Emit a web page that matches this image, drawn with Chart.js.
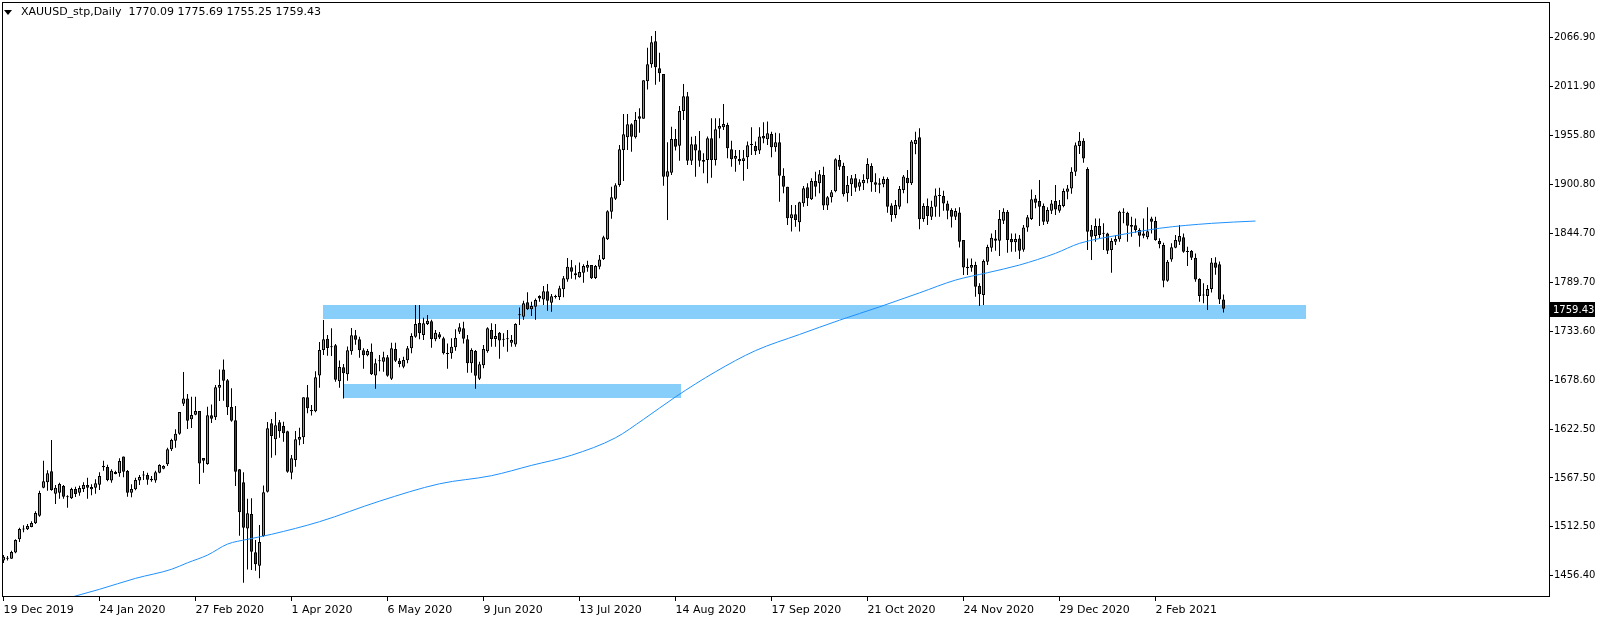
<!DOCTYPE html>
<html>
<head>
<meta charset="utf-8">
<title>XAUUSD_stp,Daily</title>
<script src="https://cdn.jsdelivr.net/npm/chart.js@4.4.1/dist/chart.umd.min.js"></script>
<style>
  html, body { margin: 0; padding: 0; background: #fff; }
  #wrap { position: relative; width: 1604px; height: 620px; }
  #c { display: block; }
  #arrow { position: absolute; left: 4px; top: 10px; width: 0; height: 0;
           border-left: 4px solid transparent; border-right: 4px solid transparent; border-top: 5px solid #000; }
  #caption { position: absolute; left: 21px; top: 5px; font: 11px "DejaVu Sans", sans-serif;
             line-height: 13px; color: #000; white-space: pre; }
</style>
</head>
<body>
<div id="wrap">
  <canvas id="c" width="1604" height="620"></canvas>
  <div id="arrow"></div>
  <div id="caption"></div>
</div>
<script>
// =========================
// DATA
// =========================
const symbol = "XAUUSD_stp";
const period = "Daily";

const opens = [
1474,1476,1476,1483,1498,1509,1509.3,1512,1516,1524.7,
1556.5,1562.6,1575,1549.7,1550.8,1558.4,1545.5,1544.4,1555,1550.8,
1555,1559.5,1554.6,1556.5,1559.9,1579.6,1580,1564.5,1574.2,1572.8,
1592,1575.4,1550.8,1554.6,1564.5,1570.3,1570.9,1566.7,1564.5,1573.5,
1578,1583,1600,1609.8,1617.7,1651.8,1657.8,1634,1639.3,1643.5,
1590.2,1583.4,1638.6,1636.3,1669.9,1690.7,1678.3,1648,1632.9,1577.3,
1562.6,1510.3,1526.6,1483.1,1468,1501.6,1552,1629.5,1611.3,1630.6,
1626.4,1620.4,1573.5,1587.9,1611,1613.6,1659,1644.6,1643.1,1683.9,
1712.7,1725.5,1715.7,1718,1677.1,1693,1685.1,1711.2,1729.3,1724.8,
1712.3,1706.6,1710.8,1683.9,1699.8,1699.4,1704.4,1680.2,1713.8,1700.6,
1693.8,1701,1714.6,1727.8,1743.3,1729.7,1742.2,1745.2,1724.8,1730.5,
1725.9,1708.5,1708.9,1715.7,1733.5,1737.3,1724.8,1697.6,1711.5,1680.2,
1695.3,1711.2,1735.4,1725.2,1732.3,1724.4,1724.8,1721,1719,1752,
1750.5,1766.8,1758.8,1761.8,1774,1770,1779.3,1766.4,1772.8,1772.8,
1781.5,1792.8,1806.5,1799.7,1795.1,1800.4,1806.1,1809.1,1794.4,1807.2,
1815.9,1838.2,1869.6,1884.4,1899.9,1939.6,1954,1968.7,1954,1977.8,
1975.1,2017.5,2036.8,2062.9,2032.3,2025.8,1909.3,1913.9,1952.1,1944.5,
1983.9,2000.5,1927.5,1946,1939.2,1928.3,1928.3,1952.9,1928.3,1963.8,
1965.3,1968,1940.4,1929.8,1929.4,1927.1,1931.3,1945.3,1944.2,1938.9,
1955.5,1951.7,1957.8,1942.7,1948.3,1910.5,1898,1862.1,1866.6,1857.6,
1879.1,1897.3,1883.6,1904.5,1901.8,1911.3,1876.5,1885.9,1892.7,1928.3,
1921.5,1890.5,1900.7,1907.5,1898,1901.8,1906.3,1921.5,1903,1901.8,
1900.7,1906.7,1876.5,1865.9,1875.3,1894.2,1908.2,1901.8,1946.4,1954,
1861.3,1876,1864,1875.3,1887.4,1887.4,1879,1871.5,1863.9,1868.8,
1837.4,1807.2,1806,1809.1,1785.6,1775,1812.9,1828.7,1839.3,1836.7,
1859.4,1869.6,1838.6,1834.8,1839.3,1826.5,1851.8,1861.3,1884.7,1881.7,
1876,1858.2,1870.7,1881.7,1870.7,1876,1892.3,1896,1915,1944,
1950,1918,1848.8,1842,1853.4,1844.6,1845,1826.1,1835.6,1838.2,
1868.5,1868.5,1854.5,1854.1,1848.8,1845,1840.5,1862,1859,1836.3,
1831.8,1791.3,1815.5,1828.8,1835.6,1840.5,1823.9,1825,1817.4,1793.2,
1774.6,1773.9,1782,1812,1810,1770.09
];

const highs = [
1480,1479,1485,1498,1511,1514,1515.3,1518.3,1529.7,1553,
1587,1576.2,1610.6,1559.5,1562.2,1559.5,1547.8,1556.5,1557.6,1558.8,
1562.6,1567.8,1560.3,1566,1573.9,1587,1582.6,1577.3,1575.8,1589.8,
1592,1576.5,1560.3,1567.8,1570.9,1575.4,1573.5,1569.8,1575.8,1583,
1581.9,1601.9,1612.1,1622.7,1642.3,1687.7,1662.7,1659.7,1659.7,1643.5,
1590.2,1648.4,1651,1673,1690.7,1702,1679.8,1669.2,1649.1,1577.7,
1573.9,1544,1544.4,1497.1,1514.1,1559.1,1631,1634.4,1642.3,1633.2,
1631.4,1621.1,1593.5,1620.8,1624.5,1659,1673,1650.3,1688.5,1721.7,
1746.7,1729.7,1737.3,1719.5,1700.9,1696.8,1716.8,1737.6,1735.4,1727.8,
1714.6,1713.8,1720.2,1702.8,1707,1710.8,1707,1721,1721,1703.2,
1705.1,1717.2,1731.6,1763.7,1763.7,1749.4,1752.4,1747.1,1735.4,1733,
1727.8,1720.2,1725.9,1736.1,1743,1744.8,1729.7,1714.6,1712.7,1699.4,
1718.4,1738.4,1742.9,1742.2,1733.1,1731.6,1735.4,1729.7,1743,1761,
1768.7,1778.1,1767.5,1771,1774.7,1785.3,1787.6,1776.2,1775.5,1785.7,
1796.6,1817.1,1814.8,1808.7,1812.1,1809.9,1814,1809.1,1809.1,1820.5,
1842.4,1871.1,1898,1901.8,1945.3,1980.4,1980.4,1969.9,1982.7,1986.9,
2018.6,2055.7,2069,2074.6,2050,2025.8,1948.3,1966.1,1963.4,1989.5,
2014.5,2005.4,1954.7,1955.5,1961.2,1935.8,1954.8,1975.5,1975.5,1975.5,
1991.8,1970.6,1950.2,1939.6,1939.6,1939.6,1949.1,1965.3,1949.1,1965.3,
1971,1971.8,1960.4,1959.3,1958.5,1918.8,1898,1877.2,1877.2,1881,
1898.8,1901.8,1907.5,1915,1916.9,1920.7,1887.4,1894.2,1930.2,1934,
1925.2,1910.1,1911.3,1912.4,1906.3,1912,1930.2,1924.5,1913.1,1907.5,
1909.4,1908.6,1879.1,1882.9,1898.8,1911.3,1916.9,1951,1960.4,1964.2,
1879.1,1884.7,1882.1,1896,1896.9,1893.4,1882.1,1873.4,1873.4,1874.5,
1837.4,1816.6,1816.6,1812.8,1788.3,1815.5,1832.2,1845,1848.8,1871.5,
1873.4,1871.5,1845,1845,1843.1,1854.5,1865.8,1894.9,1888.5,1905.5,
1879,1874.5,1882.8,1899.9,1882.8,1896,1899.9,1920,1948,1960,
1953,1920,1854.5,1862,1862,1856.4,1845.8,1839.4,1843.1,1870.8,
1873.4,1869.6,1864,1862,1850.7,1862,1874.5,1864,1864,1839.4,
1834.4,1814.8,1833.7,1843.1,1854.5,1845,1829.9,1826.1,1822.3,1794,
1788.3,1786.4,1817,1818,1813,1775.69
];

const lows = [
1471,1474,1476,1482,1495,1506,1508.5,1511.5,1515.3,1523.6,
1555.8,1553,1553,1538,1544,1544,1533.8,1543.7,1545.9,1547.4,
1551.6,1544,1548,1549.7,1554,1575.8,1563.7,1562.2,1571.6,1569,
1568.2,1546.3,1545.5,1553.5,1559.5,1565.2,1559.9,1563.3,1562.2,1572.8,
1577.3,1581.1,1598.1,1601.9,1616.6,1649.1,1623,1624.2,1638.6,1560.7,
1573.5,1582.6,1629.8,1633.2,1654.8,1655.2,1638.9,1631.4,1558.4,1502,
1448.7,1463.8,1463,1462.3,1453.6,1500.9,1551,1590.5,1593.2,1613.2,
1608.7,1573.5,1566,1580.3,1604.5,1606,1640.8,1638.5,1642,1669.9,
1707,1706.2,1705.9,1676.7,1669.9,1657.8,1677.9,1707.4,1718.7,1704,
1691.5,1705.5,1684.3,1668.8,1688.5,1688.1,1682.4,1678.6,1699.1,1693,
1691.9,1697.6,1708.9,1726.7,1724.8,1724,1741,1715.3,1722.5,1725.2,
1707.7,1691.5,1702.8,1711.9,1730.8,1720.2,1687,1687,1668.8,1678.6,
1691.9,1709.7,1716.5,1716.5,1702.8,1716.5,1710.8,1716.5,1716.5,1741,
1747,1758,1751.3,1747,1767.5,1763.7,1757.3,1756.2,1771,1769.4,
1772.4,1790.2,1793.6,1792.8,1794.8,1789.1,1801.6,1793.2,1793.2,1804.2,
1814.8,1837.5,1861.7,1882.9,1898,1904.4,1939.6,1937.7,1952.5,1959.3,
1975,2008.1,2033,2013.7,2017.1,1899.1,1860.2,1911.2,1938.9,1927.5,
1973.6,1922.6,1922.6,1909.3,1920.7,1913.1,1901.8,1908.2,1921.9,1952.9,
1962.3,1930.2,1920.7,1915,1923,1904.8,1918.1,1934,1934,1935.1,
1947.2,1945.3,1931.3,1937.7,1881,1890.5,1854.5,1847,1852.6,1847,
1875.3,1876.1,1882.9,1886.7,1890.5,1871.6,1871.6,1879.9,1891.6,1917,
1886.7,1881,1887.4,1892.3,1893.5,1894.2,1901.8,1892.3,1892,1890.5,
1897.3,1868.5,1858.3,1862.1,1872.3,1890.5,1879.1,1899.9,1934.7,1849.6,
1858.3,1854.5,1860.2,1864,1864,1870.7,1860.9,1851.8,1860.1,1829.1,
1797.7,1797.7,1801.5,1773.2,1762.6,1763.7,1809.1,1824.2,1825.3,1819.3,
1855.6,1823.1,1824.2,1824.2,1815.9,1824.2,1846.9,1860.1,1873.4,1853.3,
1854.5,1855.6,1867,1865.8,1868.5,1874.5,1883.6,1890,1910,1935,
1925,1826.1,1814.8,1835.6,1839.4,1826.1,1821.6,1800.4,1831.8,1835.6,
1856.4,1835.6,1841.2,1845.8,1829.9,1839.4,1838.2,1845,1836.7,1828,
1783.8,1790.2,1812.9,1828,1831.8,1823.1,1808,1814.8,1790.2,1767.5,
1765.6,1758,1778,1798,1765,1755.25
];

const closes = [
1478,1477,1483.6,1497,1509.6,1510,1513,1516.4,1527.8,1550.5,
1563.7,1572.8,1553.8,1556.5,1560.7,1546.3,1545.9,1555,1549.3,1556.1,
1559.5,1556.5,1557.3,1561.4,1569.8,1581.1,1565.2,1575.8,1572,1586.7,
1574.6,1550.8,1555,1565.2,1568.6,1570.6,1565.6,1564.8,1573.9,1582.2,
1581,1600,1610.6,1617.7,1642.3,1657.8,1632.5,1638.9,1643.5,1584,
1587.1,1638.6,1634.8,1670.3,1673,1677.9,1647.6,1632.5,1574.6,1528.5,
1511.1,1527.4,1483.8,1469.5,1494.8,1551.2,1623.8,1615.1,1627.2,1620.4,
1618.1,1574.6,1589.8,1611.3,1614,1659,1646.5,1643.1,1681.7,1712.7,
1724.8,1715,1715.7,1679,1693.4,1686.2,1712.3,1729.3,1724.4,1712.3,
1706.6,1711.5,1685.1,1697.6,1700,1704.4,1683.6,1714.6,1700.6,1696.8,
1701.3,1714.6,1728.6,1742.2,1731.6,1743,1746,1725.2,1732.3,1727,
1708.9,1708.1,1716.5,1726.7,1738.4,1725.5,1697.6,1712.7,1683.6,1696.4,
1713.8,1737.3,1725.2,1728.6,1723.6,1724.8,1724.9,1724,1742.2,1753,
1765.6,1758.8,1762.6,1769.4,1771,1779.3,1768.7,1773.6,1773,1782.7,
1794,1807.2,1801.6,1797.4,1801.2,1808,1809.1,1794,1808,1815.5,
1840.5,1870,1885.9,1899.5,1940.4,1957.4,1968.7,1954.7,1973.6,1975.1,
2018.6,2036.8,2061.8,2033.4,2026.6,1909.3,1915.4,1952.1,1943.4,1983.9,
2000.5,1927.5,1946,1938.9,1927.5,1926.4,1952.9,1928.3,1963.1,1966.9,
1969.1,1941.5,1929,1932.8,1926.8,1930.2,1944.9,1945.3,1938.1,1954.8,
1952.5,1958.5,1942.7,1948.3,1910.5,1898,1862.1,1866.6,1860.2,1880.2,
1896.1,1884.8,1904.5,1898,1912,1876.5,1885.9,1891.6,1929,1920.7,
1889.3,1899.9,1907.5,1896.9,1902.9,1905.6,1923.7,1903,1900.3,1900.3,
1906.7,1875.3,1865.9,1877.2,1895.4,1909.4,1901.8,1949.1,1951,1861,
1876,1864.7,1875.3,1888.1,1887.8,1879,1870.7,1863.9,1870.4,1835.6,
1806.4,1805.3,1809.1,1784.5,1775.8,1813.6,1829.5,1840.1,1836.7,1861.3,
1869.6,1837.4,1834.8,1838.6,1825.3,1851.8,1863.2,1883.6,1879.8,1875.3,
1858.2,1871.5,1879,1872.2,1877.2,1893,1896,1915,1945,1950,
1930,1846.9,1841.3,1853.4,1843.1,1844.6,1825.4,1836.3,1838.6,1869.6,
1868.5,1853.7,1852.6,1848.8,1842.4,1842.4,1847.3,1858.3,1837.5,1832.6,
1791.3,1812.9,1829.2,1837.5,1842,1824.2,1823.9,1817.4,1792.8,1773.9,
1774.6,1781.9,1812,1806,1770,1759.43
];

// moving average at some bars
const maBars = [12, 18, 24, 33, 42, 46, 51, 56, 61, 67, 79, 94, 109, 122, 132, 142, 153, 160, 168,
                178, 188, 199, 209, 219, 229, 238, 246, 254, 263, 269, 279, 289, 302, 313];
const maValues = [1426, 1433.6, 1441.2, 1453.6, 1463.9, 1471.3, 1480, 1492.5, 1497.9, 1503.6, 1517.9,
                  1541.2, 1560.9, 1570.1, 1581.8, 1593.3, 1613.1, 1634, 1659.5, 1688, 1712, 1730.3,
                  1746.5, 1761.6, 1777.5, 1792, 1800.4, 1809.1, 1822.4, 1833.7, 1843.2, 1850.8, 1856.4, 1859];

// support zones (bar from, bar to, low price, high price)
const zoneFrom = [79.9, 84.9];
const zoneTo = [325.6, 169.4];
const zoneLow = [1747.3, 1658.8];
const zoneHigh = [1763.7, 1674.1];

// axis labels
const dateTickBars = [0, 24, 48, 72, 96, 120, 144, 168, 192, 216, 240, 264, 288];
const dateTickLabels = ["19 Dec 2019", "24 Jan 2020", "27 Feb 2020", "1 Apr 2020", "6 May 2020", "9 Jun 2020",
                        "13 Jul 2020", "14 Aug 2020", "17 Sep 2020", "21 Oct 2020", "24 Nov 2020",
                        "29 Dec 2020", "2 Feb 2021"];
const priceTicks = [2066.90, 2011.90, 1955.80, 1900.80, 1844.70, 1789.70, 1733.60,
                    1678.60, 1622.50, 1567.50, 1512.50, 1456.40];

// =========================
// CAPTION
// =========================
const last = closes.length - 1;
document.getElementById("caption").innerText =
    symbol + "," + period + "  " +
    [opens[last], highs[last], lows[last], closes[last]].map(v => v.toFixed(2)).join(" ");

// =========================
// PLUGINS
// =========================
const zonesPlugin = {
    id: "zones",
    beforeDatasetsDraw(chart){
        const {ctx, chartArea, scales: {x, y}} = chart;
        ctx.save();
        ctx.beginPath();
        ctx.rect(chartArea.left, chartArea.top, chartArea.width, chartArea.height);
        ctx.clip();
        ctx.fillStyle = "#87cefa";
        zoneFrom.forEach((f, k) => {
            const x0 = Math.round(x.getPixelForValue(f));
            const x1 = Math.round(x.getPixelForValue(zoneTo[k]));
            const y0 = Math.round(y.getPixelForValue(zoneHigh[k]));
            const y1 = Math.round(y.getPixelForValue(zoneLow[k]));
            ctx.fillRect(x0, y0, x1 - x0, y1 - y0);
        });
        ctx.restore();
    }
};

const framePlugin = {
    id: "frame",
    afterDraw(chart){
        const {ctx, chartArea, scales: {y}} = chart;
        const l = Math.round(chartArea.left), t = Math.round(chartArea.top);
        const r = Math.round(chartArea.right), b = Math.round(chartArea.bottom);
        ctx.save();
        ctx.strokeStyle = "#000";
        ctx.lineWidth = 1;
        ctx.strokeRect(l + 0.5, t + 0.5, r - l, b - t);

        // last price tag
        const price = closes[last];
        const py = Math.round(y.getPixelForValue(price));
        ctx.fillStyle = "#000";
        ctx.fillRect(r + 1, py - 7, 45, 15);
        ctx.fillStyle = "#fff";
        ctx.font = '10px "DejaVu Sans"';
        ctx.textBaseline = "middle";
        ctx.textAlign = "left";
        ctx.fillText(price.toFixed(2), r + 4, py + 1);
        ctx.restore();
    }
};

// =========================
// CHART
// =========================
Chart.defaults.font.family = '"DejaVu Sans", sans-serif';
Chart.defaults.font.size = 11;
Chart.defaults.color = "#000";

const bullColor = "#26d926";
const bearColor = "#dd0000";

new Chart(document.getElementById("c"), {
    type: "bar",
    data: {
        datasets: [
            {
                type: "line",
                data: maBars.map((b, k) => ({x: b, y: maValues[k]})),
                borderColor: "#1e90ff",
                borderWidth: 1,
                pointRadius: 0,
                cubicInterpolationMode: "monotone",
                order: 0
            },
            {
                data: opens.map((o, i) => ({x: i, y: [o, closes[i]]})),
                backgroundColor: closes.map((c, i) => c >= opens[i] ? bullColor : bearColor),
                borderColor: "#000",
                borderWidth: 1,
                borderSkipped: false,
                barThickness: 3,
                minBarLength: 1,
                inflateAmount: 0,
                grouped: false,
                order: 1
            },
            {
                data: lows.map((l, i) => ({x: i, y: [l, highs[i]]})),
                backgroundColor: "#000",
                borderWidth: 0,
                barThickness: 1,
                inflateAmount: 0,
                grouped: false,
                order: 2
            }
        ]
    },
    options: {
        responsive: false,
        animation: false,
        devicePixelRatio: 1,
        events: [],
        layout: { padding: {left: 2, top: 2, right: 0, bottom: 0}, autoPadding: false },
        plugins: {
            legend: { display: false },
            tooltip: { enabled: false }
        },
        scales: {
            x: {
                type: "linear",
                min: -0.375,
                max: 386.375,
                offset: false,
                afterFit(scale){
                    scale.height = 24;
                    scale.paddingLeft = 0;
                    scale.paddingRight = 0;
                },
                afterBuildTicks(scale){ scale.ticks = dateTickBars.map(v => ({value: v})); },
                grid: { drawOnChartArea: false, tickLength: 5, color: "#000", offset: false },
                border: { display: false },
                ticks: {
                    align: "start",
                    autoSkip: false,
                    maxRotation: 0,
                    padding: 3,
                    callback: v => dateTickLabels[dateTickBars.indexOf(v)] || ""
                }
            },
            y: {
                position: "right",
                min: 1433.6,
                max: 2107.5,
                afterFit(scale){
                    scale.width = 55;
                    scale.paddingTop = 0;
                    scale.paddingBottom = 0;
                },
                afterBuildTicks(scale){ scale.ticks = priceTicks.map(v => ({value: v})); },
                grid: { drawOnChartArea: false, tickLength: 4, color: "#000" },
                border: { display: false },
                ticks: {
                    autoSkip: false,
                    padding: 1,
                    font: { size: 10 },
                    callback: v => v.toFixed(2)
                }
            }
        }
    },
    plugins: [zonesPlugin, framePlugin]
});
</script>
</body>
</html>
